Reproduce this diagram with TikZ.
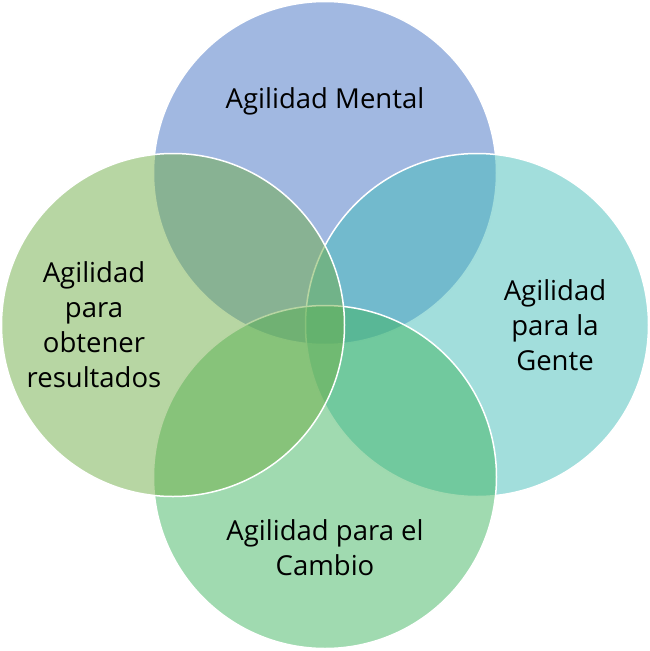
\documentclass[tikz,border=0pt]{standalone}
\usepackage{fontspec}
\setmainfont{Open Sans}
\usetikzlibrary{calc}
\definecolor{mentalBlue}{HTML}{4472C4}
\definecolor{genteTeal}{RGB}{69,189,185}
\definecolor{cambioGreen}{RGB}{65,181,97}
\definecolor{resultGreen}{HTML}{70AD47}
\tikzset{
    venn/.style={circle, draw=white, line width=1.5pt, fill opacity=0.5, draw opacity=1, inner sep=0pt, minimum size=343pt},
    vennText/.style={align=center, text=black, inner sep=0pt, font=\fontsize{27.5}{35}\selectfont},
}
\newcommand{\vennCircle}[3]{
    \node[venn, fill=#3] (#1) at (#2) {};
}

\begin{document}
\begin{tikzpicture}[x=1pt, y=-1pt]
        \useasboundingbox (0,0) rectangle (650,651);
        
        \vennCircle{mental}{325,173}{mentalBlue}
        \vennCircle{gente}{477,325}{genteTeal}
        \vennCircle{cambio}{325,477}{cambioGreen}
        \vennCircle{result}{173,325}{resultGreen}
        
        \node[vennText] (mentalText) at (325,101) {Agilidad Mental};
        \node[vennText] (genteText) at (555,325) {Agilidad\\para la\\Gente};
        \node[vennText] (cambioText) at (325,548) {Agilidad para el\\Cambio};
        \node[vennText] (resultText) at (94,325) {Agilidad\\para\\obtener\\resultados};
    \end{tikzpicture}
\end{document}
